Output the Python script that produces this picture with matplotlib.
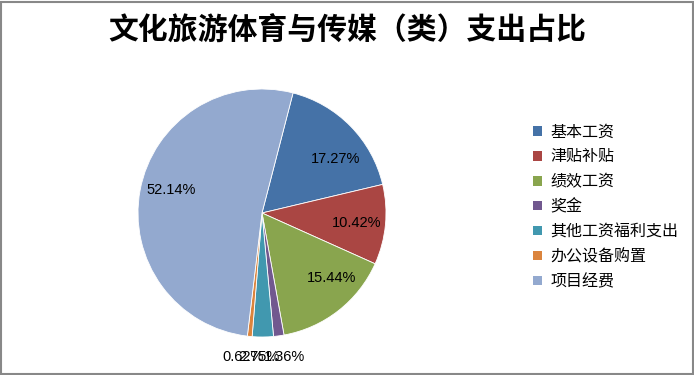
import numpy as np
import matplotlib.pyplot as plt
from matplotlib.patches import Patch, Rectangle

plt.rcParams['font.family'] = ['Noto Sans CJK SC', 'DejaVu Sans']

labels = ['基本工资', '津贴补贴', '绩效工资', '奖金', '其他工资福利支出', '办公设备购置', '项目经费']
values = [17.27, 10.42, 15.44, 1.36, 2.75, 0.62, 52.14]
colors = ['#4572A7', '#AA4643', '#89A54E', '#71588F', '#4198AF', '#DB843D', '#93A9CF']
title = '文化旅游体育与传媒（类）支出占比'

fig = plt.figure(figsize=(6.94, 3.75), dpi=100)
ax = fig.add_axes([138/694, 38/375, 248/694, 248/375])

wedges, texts, autotexts = ax.pie(values, colors=colors, startangle=75.5, counterclock=False,
                                  autopct='%.2f%%', pctdistance=0.75,
                                  wedgeprops=dict(edgecolor='white', linewidth=0.6),
                                  textprops=dict(family='Liberation Sans', fontsize=10.5))
ax.set_xlim(-1, 1)
ax.set_ylim(-1, 1)

# Beschriftungen wie im Original platzieren (kleine Sektoren unter dem Kreis, ueberlappend)
label_pos = {0: (0.592, 0.435), 1: (0.761, -0.081), 2: (0.560, -0.524), 6: (-0.731, 0.188),
             3: (0.185, -1.16), 4: (-0.025, -1.16), 5: (-0.155, -1.16)}
for i, (x, y) in label_pos.items():
    autotexts[i].set_position((x, y))

fig.text(0.5, 1 - 31/375, title, ha='center', va='center', fontsize=21.5, fontweight='bold')

handles = [Patch(facecolor=c, edgecolor='none') for c in colors]
fig.legend(handles, labels, loc='upper left', bbox_to_anchor=(519/694, 1 - 109/375),
           frameon=False, fontsize=11.5, handlelength=0.55, handleheight=0.55,
           handletextpad=0.5, labelspacing=0.5)

fig.patches.append(Rectangle((0.002, 0.004), 0.996, 0.992, transform=fig.transFigure,
                             fill=False, edgecolor='#888888', linewidth=1.5))

plt.savefig('out.png', dpi=100)
plt.close()
